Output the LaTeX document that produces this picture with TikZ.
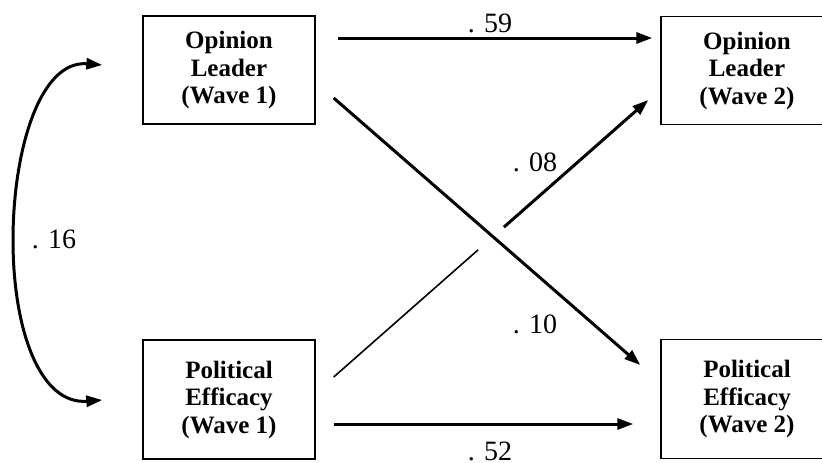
\documentclass[tikz,border=0pt]{standalone}
\usepackage{fontspec}
\setmainfont{Liberation Serif}
\usetikzlibrary{arrows.meta,calc}
\tikzset{
  box/.style={draw, rectangle, line width=1.4pt, minimum width=172pt, minimum height=108pt, align=center, inner sep=0pt, font=\fontsize{25}{27.5}\selectfont\bfseries},
  tallbox/.style={box, minimum height=119pt},
  arr/.style={-{Triangle[length=16pt, width=11pt]}, line width=3pt},
  darr/.style={{Triangle[length=16pt, width=11pt]}-{Triangle[length=16pt, width=11pt]}, line width=3pt},
  thin/.style={line width=1.6pt},
  coef/.style={anchor=base, inner sep=0pt, font=\fontsize{28}{32}\selectfont}
}

\begin{document}
\begin{tikzpicture}[x=1pt, y=-1pt]
\useasboundingbox (0,0) rectangle (822,463);

% wave 1
\node[box] (ol1) at (229,70) {Opinion\\Leader\\(Wave 1)};
\node[tallbox] (pe1) at (229,399.5) {Political\\Efficacy\\(Wave 1)};

% wave 2
\node[box] (ol2) at (747,70.5) {Opinion\\Leader\\(Wave 2)};
\node[tallbox] (pe2) at (747,399) {Political\\Efficacy\\(Wave 2)};

% stability paths
\draw[arr] ($(ol1.east)+(22,-32)$) -- ($(ol2.west)+(-8,-32.5)$);
\draw[arr] ($(pe1.east)+(18,24.5)$) -- ($(pe2.west)+(-27,25)$);

% cross-lagged paths
\draw[arr] ($(ol1.east)+(18,28)$) -- ($(pe2.west)+(-20,-34)$);
\coordinate (s) at ($(pe1.east)+(18,-22.5)$);
\coordinate (e) at ($(ol2.west)+(-12,29.5)$);
\draw[thin] (s) -- ($(s)!0.459!(e)$);
\draw[arr] ($(s)!0.541!(e)$) -- (e);

% correlation
\draw[darr] ($(ol1.west)+(-40,-5)$) .. controls (40,60) and (13,150) .. (13,240)
  .. controls (13,330) and (40,405) .. ($(pe1.west)+(-40,0.5)$);

\node[coef] (c59) at (490,32) {. 59};
\node[coef] (c52) at (490,460) {. 52};
\node[coef] (c08) at (535,171) {. 08};
\node[coef] (c10) at (535,333) {. 10};
\node[coef] (c16) at (54,248) {. 16};
\end{tikzpicture}
\end{document}
